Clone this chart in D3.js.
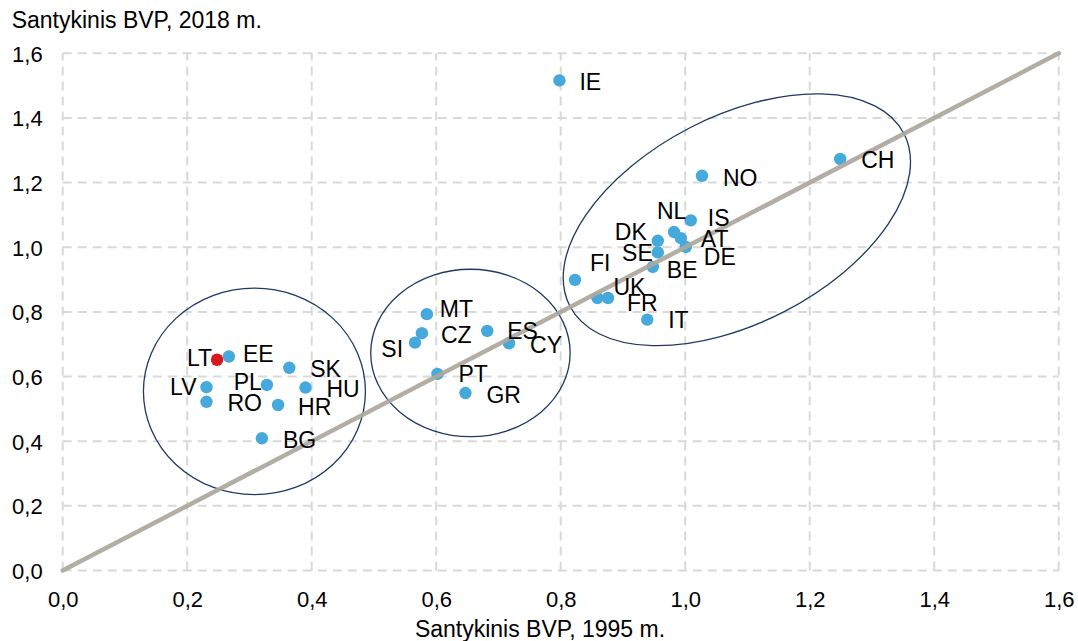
<!DOCTYPE html>
<html>
<head>
<meta charset="utf-8">
<script src="https://cdn.jsdelivr.net/npm/d3@7"></script>
<style>
  html, body { margin: 0; padding: 0; background: #ffffff; }
  svg { display: block; font-family: "Liberation Sans", Arial, sans-serif; }
</style>
</head>
<body>
<svg id="chart" width="1078" height="641"></svg>
<script>
// ---- Data ----
const countries = ["LT","EE","LV","RO","PL","SK","HU","HR","BG",
                   "MT","CZ","SI","ES","CY","PT","GR",
                   "IE","NO","IS","NL","AT","DE","DK","SE","BE","FI","UK","FR","IT","CH"];
const gdp1995 = [0.248,0.267,0.231,0.231,0.328,0.364,0.390,0.346,0.320,
                 0.585,0.577,0.566,0.682,0.717,0.602,0.647,
                 0.798,1.027,1.009,0.982,0.993,1.001,0.956,0.956,0.948,0.823,0.859,0.876,0.939,1.249];
const gdp2018 = [0.652,0.662,0.567,0.522,0.574,0.627,0.566,0.512,0.409,
                 0.793,0.734,0.705,0.741,0.703,0.608,0.549,
                 1.516,1.221,1.083,1.047,1.028,1.001,1.020,0.984,0.939,0.899,0.843,0.843,0.776,1.273];
const highlight = "LT";
const tickValues = [0,0.2,0.4,0.6,0.8,1.0,1.2,1.4,1.6];
const xTitle = "Santykinis BVP, 1995 m.";
const yTitle = "Santykinis BVP, 2018 m.";

// ---- Label placement (anchor, dx, dy of text centre relative to point) ----
const labelPos = {
  LT:["end",-5,-2], EE:["start",14,-3], SK:["start",21,1], PL:["end",-5,-3],
  HU:["start",21,1], LV:["end",-10,0], RO:["start",21,1], HR:["start",20,2],
  BG:["start",21,2], MT:["start",13,-5], CZ:["start",19,2], SI:["end",-12,6],
  ES:["start",20,0], CY:["start",21,2], PT:["start",21,0], GR:["start",21,2],
  IE:["start",20,1], NO:["start",21,2], IS:["start",17,-3], NL:["start",-17,-21],
  AT:["start",20,1], DE:["start",18,10], DK:["end",-11,-9], SE:["end",-5,0],
  BE:["start",14,3], FI:["start",15,-17], UK:["start",16,-11], FR:["start",19,5],
  IT:["start",21,0], CH:["start",21,1]
};

const svg = d3.select("#chart");
const x = d3.scaleLinear().domain([0,1.6]).range([62.7,1058.7]);
const y = d3.scaleLinear().domain([0,1.6]).range([570.5,53.3]);

const fmt = v => d3.format(".1f")(v).replace(".", ",");

// grid
const grid = svg.append("g");
grid.selectAll("line.v").data(tickValues).join("line")
  .attr("x1", d => x(d)).attr("x2", d => x(d))
  .attr("y1", y(0)).attr("y2", y(1.6))
  .attr("stroke", "#d9d9d9").attr("stroke-width", 2).attr("stroke-dasharray", "9,6");
grid.selectAll("line.h").data(tickValues).join("line")
  .attr("y1", d => y(d)).attr("y2", d => y(d))
  .attr("x1", x(0)).attr("x2", x(1.6))
  .attr("stroke", "#d9d9d9").attr("stroke-width", 2).attr("stroke-dasharray", "9,6");

// axes (labels only)
const xAxis = svg.append("g").attr("transform", `translate(0,${y(0)})`)
  .call(d3.axisBottom(x).tickValues(tickValues).tickFormat(fmt).tickSize(0).tickPadding(0));
xAxis.select(".domain").remove();
xAxis.selectAll("text").attr("font-size", 22).attr("fill", "#000")
  .attr("font-family", "Liberation Sans, Arial, sans-serif")
  .attr("dy", null).attr("y", 36.5);

const yAxis = svg.append("g").attr("transform", `translate(${x(0)},0)`)
  .call(d3.axisLeft(y).tickValues(tickValues).tickFormat(fmt).tickSize(0).tickPadding(0));
yAxis.select(".domain").remove();
yAxis.selectAll("text").attr("font-size", 22).attr("fill", "#000")
  .attr("font-family", "Liberation Sans, Arial, sans-serif")
  .attr("dy", null).attr("x", -20).attr("y", 7.9);

// titles
svg.append("text").attr("x", 11.7).attr("y", 27.5).attr("font-size", 23).attr("fill", "#000").text(yTitle);
svg.append("text").attr("x", 540).attr("y", 637).attr("text-anchor", "middle")
  .attr("font-size", 23).attr("fill", "#000").text(xTitle);

// group ellipses (annotation)
const ellipses = [
  {cx:0.308, cy:0.554, rx:111, ry:103.3, rot:0},
  {cx:0.655, cy:0.673, rx:99.7, ry:83.7, rot:0},
  {cx:1.083, cy:1.085, rx:188, ry:103.3, rot:-27.3}
];
svg.append("g").selectAll("ellipse").data(ellipses).join("ellipse")
  .attr("transform", d => `translate(${x(d.cx)},${y(d.cy)}) rotate(${d.rot})`)
  .attr("rx", d => d.rx).attr("ry", d => d.ry)
  .attr("fill", "none").attr("stroke", "#1f3864").attr("stroke-width", 1.3);

// points
const pts = countries.map((c,i) => ({c, vx: gdp1995[i], vy: gdp2018[i]}));
svg.append("g").selectAll("circle").data(pts).join("circle")
  .attr("cx", d => x(d.vx)).attr("cy", d => y(d.vy)).attr("r", 6.2)
  .attr("fill", d => d.c === highlight ? "#d7191f" : "#45a9dc");

// 45-degree line
svg.append("line")
  .attr("x1", x(0)).attr("y1", y(0)).attr("x2", x(1.6)).attr("y2", y(1.6))
  .attr("stroke", "#ada89e").attr("stroke-width", 4.5).attr("stroke-linecap", "round")
  .attr("opacity", 0.92);

// labels
svg.append("g").selectAll("text").data(pts).join("text")
  .attr("x", d => x(d.vx) + labelPos[d.c][1])
  .attr("y", d => y(d.vy) + labelPos[d.c][2] + 8.2)
  .attr("text-anchor", d => labelPos[d.c][0])
  .attr("font-size", 23).attr("fill", "#000")
  .text(d => d.c);
</script>
</body>
</html>
